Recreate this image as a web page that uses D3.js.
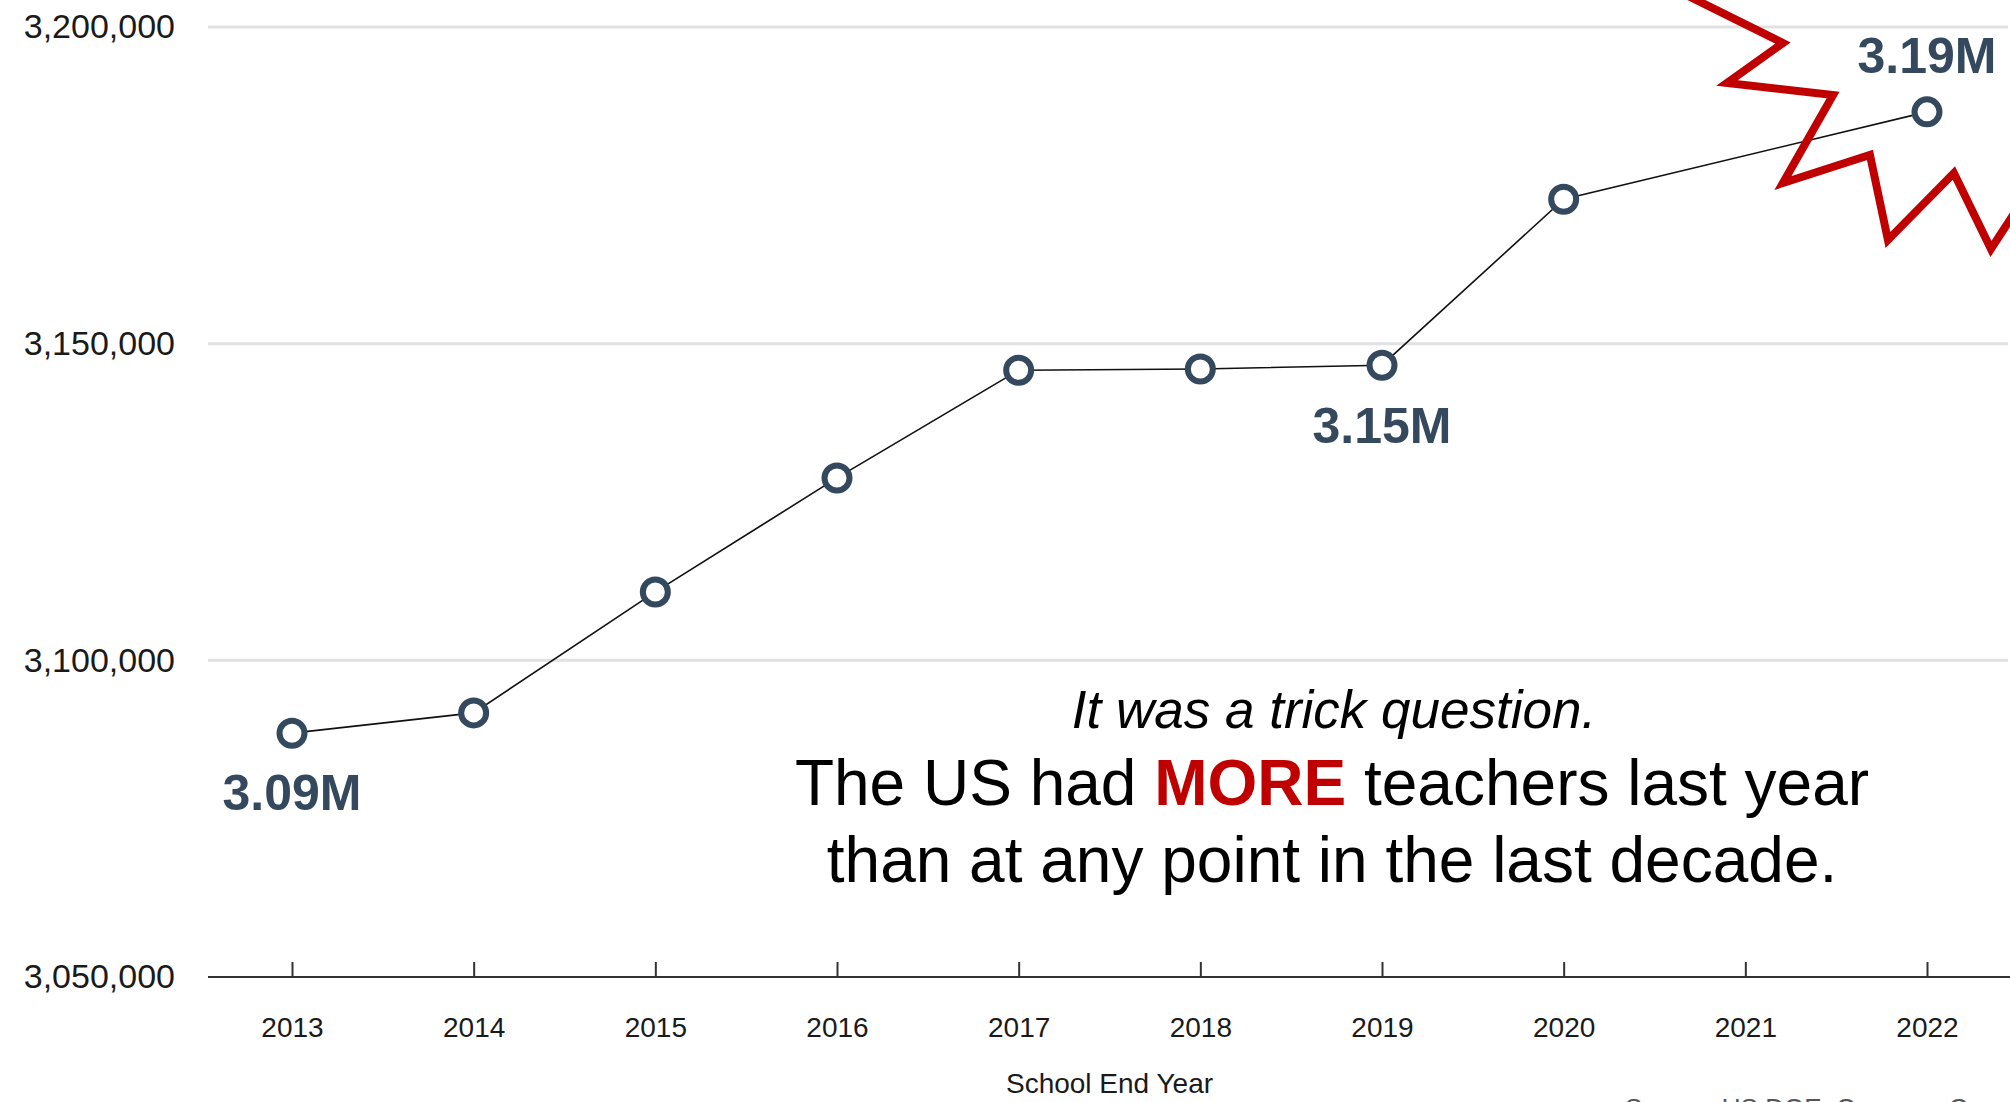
<!DOCTYPE html>
<html><head><meta charset="utf-8">
<script src="https://cdn.jsdelivr.net/npm/d3@7"></script>
<style>
body{margin:0;background:#fff;}
svg{display:block;font-family:"Liberation Sans",Arial,Helvetica,sans-serif;}
</style>
</head><body>
<svg id="chart" width="2010" height="1102"></svg>
<script>
// ---- data ----
const years = [2013, 2014, 2015, 2016, 2017, 2018, 2019, 2020, 2022];
const teachers = [3088500, 3091700, 3110800, 3128800, 3145800, 3146000, 3146600, 3172800, 3186600];
const tickYears = [2013, 2014, 2015, 2016, 2017, 2018, 2019, 2020, 2021, 2022];
const yTicks = [3050000, 3100000, 3150000, 3200000];
const labelYears = [2013, 2019, 2022];
const labelTexts = ["3.09M", "3.15M", "3.19M"];
const xTitle = "School End Year";
// starburst decoration vertices (in year / value space)
const burstYears = [2020.51, 2021.207, 2020.899, 2021.483, 2021.207, 2021.686, 2021.785, 2022.148, 2022.352, 2022.567];
const burstValues = [3207400, 3197470, 3191160, 3189260, 3175370, 3179790, 3166370, 3176950, 3164950, 3174420];

// ---- layout ----
const W = 2010, H = 1102;
const svg = d3.select("#chart");
const x = d3.scaleLinear().domain([2013, 2022]).range([292, 1927]);
const y = d3.scaleLinear().domain([3050000, 3200000]).range([977, 27]);
const plotLeft = 208, plotRight = 2008;

// gridlines
svg.append("g").selectAll("line")
  .data(yTicks.filter(d => d !== y.domain()[0]))
  .join("line")
  .attr("x1", plotLeft).attr("x2", plotRight)
  .attr("y1", d => y(d)).attr("y2", d => y(d))
  .attr("stroke", "#e1e1e1").attr("stroke-width", 3);

// y axis labels
const yAxis = d3.axisLeft(y).tickValues(yTicks).tickFormat(d3.format(",")).tickSize(0).tickPadding(33);
const gy = svg.append("g").attr("transform", `translate(${plotLeft},0)`).call(yAxis);
gy.select(".domain").remove();
gy.selectAll("text").attr("font-size", 34).attr("fill", "#1a1a1a").attr("font-family", "Liberation Sans, Arial, sans-serif");

// x axis
svg.append("line")
  .attr("x1", plotLeft).attr("x2", W)
  .attr("y1", y(3050000)).attr("y2", y(3050000))
  .attr("stroke", "#333").attr("stroke-width", 2);
const xAxis = d3.axisBottom(x).tickValues(tickYears).tickFormat(d3.format("d")).tickSizeInner(-15).tickSizeOuter(0).tickPadding(40);
const gx = svg.append("g").attr("transform", `translate(0,${y(3050000)})`).call(xAxis);
gx.select(".domain").remove();
gx.selectAll(".tick line").attr("stroke", "#333").attr("stroke-width", 2);
gx.selectAll("text").attr("font-size", 28).attr("fill", "#1a1a1a").attr("font-family", "Liberation Sans, Arial, sans-serif");

svg.append("text")
  .attr("x", (x(2013) + x(2022)) / 2 - 0).attr("y", 1093)
  .attr("text-anchor", "middle").attr("font-size", 28).attr("fill", "#1a1a1a")
  .text(xTitle);

// source note (cut off at bottom, as in the original)
svg.append("text")
  .attr("x", 1625).attr("y", 1117)
  .attr("font-size", 26).attr("fill", "#555")
  .text("Source: US DOE, Common Core of Data");

// line
const pts = years.map((yr, i) => [yr, teachers[i]]);
svg.append("path")
  .datum(pts)
  .attr("fill", "none").attr("stroke", "#111").attr("stroke-width", 1.6)
  .attr("d", d3.line().x(d => x(d[0])).y(d => y(d[1])));

// starburst
const burst = burstYears.map((yr, i) => [yr, burstValues[i]]);
svg.append("path")
  .datum(burst)
  .attr("fill", "none").attr("stroke", "#C00000").attr("stroke-width", 8)
  .attr("stroke-linejoin", "miter").attr("stroke-miterlimit", 10)
  .attr("d", d3.line().x(d => x(d[0])).y(d => y(d[1])));

// points
svg.append("g").selectAll("circle")
  .data(pts).join("circle")
  .attr("cx", d => x(d[0])).attr("cy", d => y(d[1])).attr("r", 12.5)
  .attr("fill", "#fff").attr("stroke", "#34495E").attr("stroke-width", 6);

// value labels
const labelOffsets = [77, 78, -39];
svg.append("g").selectAll("text")
  .data(labelYears).join("text")
  .attr("x", d => x(d))
  .attr("y", (d, i) => y(teachers[years.indexOf(d)]) + labelOffsets[i])
  .attr("text-anchor", "middle").attr("font-size", 50).attr("font-weight", "bold")
  .attr("fill", "#34495E")
  .text((d, i) => labelTexts[i]);

// annotation
const ann = svg.append("g").attr("text-anchor", "middle");
ann.append("text").attr("x", 1334).attr("y", 728)
  .attr("font-size", 53).attr("font-style", "italic").attr("fill", "#000")
  .text("It was a trick question.");
const l2 = ann.append("text").attr("x", 1332).attr("y", 805).attr("font-size", 64).attr("fill", "#000");
l2.append("tspan").text("The US had ");
l2.append("tspan").attr("font-weight", "bold").attr("fill", "#C00000").text("MORE");
l2.append("tspan").text(" teachers last year");
ann.append("text").attr("x", 1332).attr("y", 882).attr("font-size", 64).attr("fill", "#000")
  .text("than at any point in the last decade.");
</script>
</body></html>
